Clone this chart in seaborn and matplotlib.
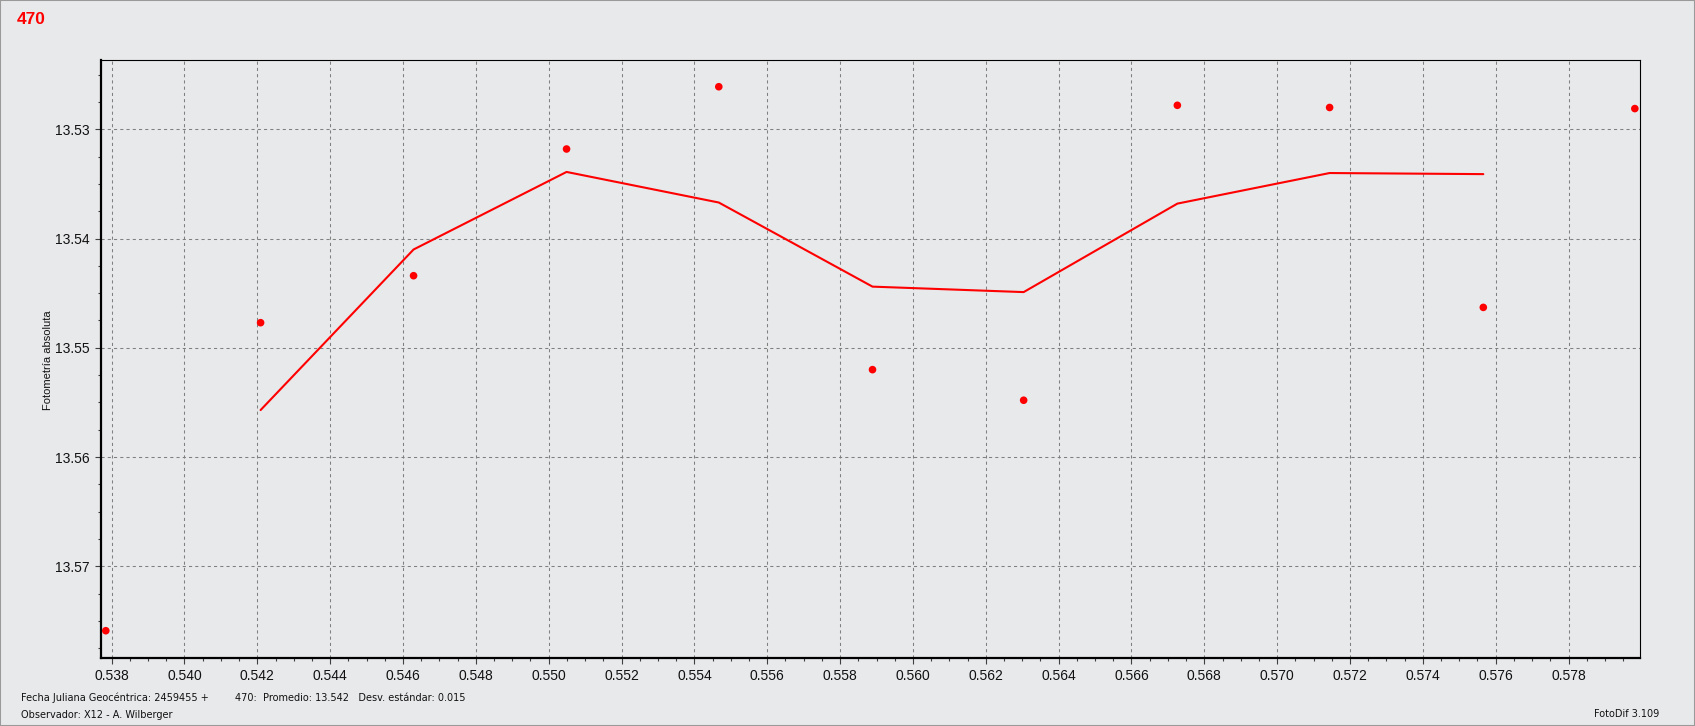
import matplotlib
matplotlib.use("Agg")
import matplotlib.pyplot as plt
import seaborn as sns
from matplotlib.ticker import MultipleLocator, FormatStrFormatter
from matplotlib.patches import Rectangle

# fraction of JD (2459455 +) and absolute magnitude of each measurement
jd = [0.53784, 0.54209, 0.54629, 0.55049, 0.55467, 0.55889,
      0.56304, 0.56726, 0.57144, 0.57566, 0.57982]
mag = [13.5759, 13.5477, 13.5434, 13.5318, 13.5261, 13.5520,
       13.5548, 13.5278, 13.5280, 13.5463, 13.5281]

# smoothed curve
jd_avg = [0.54209, 0.54629, 0.55049, 0.55467, 0.55889,
          0.56304, 0.56726, 0.57144, 0.57566]
mag_avg = [13.5557, 13.5410, 13.5339, 13.5367, 13.5444,
           13.5449, 13.5368, 13.5340, 13.5341]

star = "470"
footer_left = "Fecha Juliana Geocéntrica: 2459455 +"
footer_stats = "470:  Promedio: 13.542   Desv. estándar: 0.015"
footer_obs = "Observador: X12 - A. Wilberger"
footer_soft = "FotoDif 3.109"

BG = "#e8e9eb"

sns.set_theme(style="white")
plt.rcParams["font.family"] = ["Liberation Sans", "DejaVu Sans"]

fig = plt.figure(figsize=(16.95, 7.26), dpi=100, facecolor=BG)
ax = fig.add_axes([100.7 / 1695, 1 - 657.7 / 726, 1539.6 / 1695, 597.4 / 726])
ax.set_facecolor(BG)

sns.lineplot(x=jd_avg, y=mag_avg, color="red", linewidth=1.5, ax=ax, zorder=3)
sns.scatterplot(x=jd, y=mag, color="red", s=30, edgecolor="none", ax=ax, zorder=4)

ax.set_xlim(0.5377, 0.57997)
ax.set_ylim(13.57837, 13.52368)

ax.xaxis.set_major_locator(MultipleLocator(0.002))
ax.xaxis.set_minor_locator(MultipleLocator(0.0005))
ax.xaxis.set_major_formatter(FormatStrFormatter("%.3f"))
ax.yaxis.set_major_locator(MultipleLocator(0.01))
ax.yaxis.set_minor_locator(MultipleLocator(0.0025))
ax.yaxis.set_major_formatter(FormatStrFormatter("%.2f"))

ax.grid(True, which="major", color="#808080", linestyle=(0, (3, 3)), linewidth=0.75)
ax.tick_params(axis="both", which="major", direction="out", length=4, width=0.8,
               color="#404040", labelsize=10, labelcolor="#111111", pad=4,
               bottom=True, left=True)
ax.tick_params(axis="both", which="minor", direction="out", length=2.5, width=0.8,
               color="#404040", bottom=True, left=True)

for side in ["left", "bottom"]:
    ax.spines[side].set_linewidth(1.6)
    ax.spines[side].set_color("black")
for side in ["top", "right"]:
    ax.spines[side].set_linewidth(0.8)
    ax.spines[side].set_color("black")

ax.set_xlabel("")
ax.set_ylabel("")
fig.text(48.3 / 1695, 1 - 360 / 726, "Fotometría absoluta", rotation=90,
         ha="center", va="center", fontsize=8, color="#111111")

fig.text(17 / 1695, 1 - 19 / 726, star, color="red", fontsize=12.5,
         fontweight="bold", ha="left", va="center")

foot = dict(fontsize=7, color="#111111", va="center", family="DejaVu Sans")
fig.text(21 / 1695, 1 - 698 / 726, footer_left, ha="left", **foot)
fig.text(235 / 1695, 1 - 698 / 726, footer_stats, ha="left", **foot)
fig.text(21 / 1695, 1 - 715 / 726, footer_obs, ha="left", **foot)
fig.text(1659 / 1695, 1 - 714 / 726, footer_soft, ha="right", **foot)

fig.patches.append(Rectangle((0, 0), 1, 1, transform=fig.transFigure,
                             fill=False, edgecolor="#9a9a9a", linewidth=1.5))

fig.savefig("out.png", dpi=100, facecolor=fig.get_facecolor())
